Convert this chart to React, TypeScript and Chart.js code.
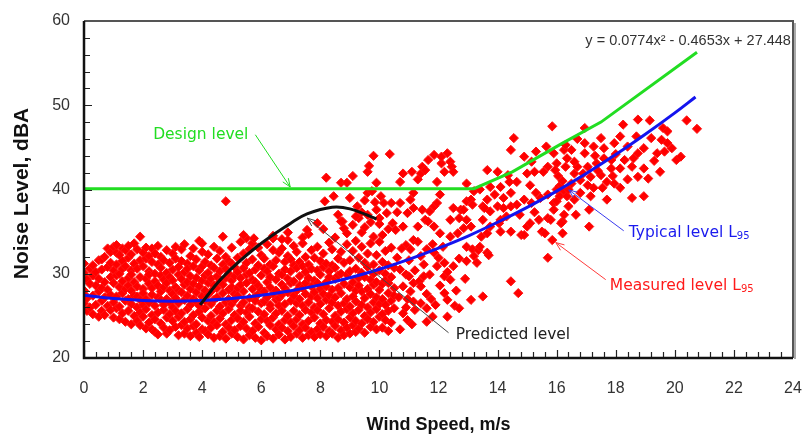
import React, { useEffect, useRef } from "react";
import { Chart, registerables } from "chart.js";

Chart.register(...registerables);

// ---------- axes ----------
const X_MIN = 0, X_MAX = 24, X_STEP = 2, X_MINOR = 0.4;
const Y_MIN = 20, Y_MAX = 60, Y_STEP = 10, Y_MINOR = 2;
const X_TITLE = "Wind Speed, m/s";
const Y_TITLE = "Noise Level, dBA";
const EQUATION = "y = 0.0774x\u00B2 - 0.4653x + 27.448";

// ---------- lines ----------
const designX = [0, 13.2, 14.5, 16.2, 17.5, 20.75];
const designY = [40.1, 40.1, 42.1, 45.5, 48.0, 56.3];

const typicalX = [0, 1, 2, 3, 4, 5, 6, 7, 8, 9, 10, 11, 12, 13, 14, 15, 16, 17, 18, 19, 20, 20.7];
const typicalY = [27.45, 27.06, 26.83, 26.75, 26.83, 27.06, 27.44, 27.98, 28.68, 29.53, 30.54, 31.7, 33.03, 34.48, 36.11, 37.88, 39.81, 41.9, 44.14, 46.55, 49.09, 50.98];

const predictedX = [3.93, 4.7, 5.85, 7.0, 7.55, 8.4, 9.0, 9.9];
const predictedY = [26.3, 29.6, 33.2, 36.0, 37.1, 37.9, 37.7, 36.5];

// ---------- measured L95 points ----------
// dense cloud: [wind speed, [noise levels...]]
const measuredCore: [number, number[]][] = [
  [0.0, [31.2, 30.1, 28.0, 26.5, 27.6]],
  [0.1, [29.3, 25.6, 27.1]],
  [0.2, [30.6, 26.0, 28.8]],
  [0.3, [25.2, 29.8, 27.4, 31.0]],
  [0.4, [26.3, 28.6, 30.2]],
  [0.5, [24.9, 27.9, 31.6, 29.4]],
  [0.6, [31.7, 26.8, 28.3, 30.5, 25.6]],
  [0.7, [29.0, 27.2, 32.0, 25.1]],
  [0.8, [30.8, 28.1, 26.2, 33.0]],
  [0.9, [31.3, 27.5, 29.6, 25.7, 32.6]],
  [1.0, [33.2, 28.9, 26.6, 30.4, 24.8]],
  [1.1, [32.5, 27.3, 29.8, 25.9, 31.1, 33.4]],
  [1.2, [30.0, 28.4, 26.1, 32.2, 24.6]],
  [1.3, [33.0, 29.1, 27.7, 25.3, 31.5, 30.6]],
  [1.4, [28.2, 26.8, 32.8, 24.3, 30.9]],
  [1.5, [31.9, 29.5, 27.0, 25.6, 33.3, 28.6]],
  [1.6, [30.4, 26.4, 24.0, 32.3, 28.0, 29.9]],
  [1.7, [27.4, 25.0, 31.2, 33.6, 29.0]],
  [1.8, [32.9, 30.6, 28.5, 26.0, 24.4, 27.3]],
  [1.9, [34.4, 29.6, 26.9, 23.9, 31.6, 25.4]],
  [2.0, [28.2, 30.9, 32.5, 24.9, 27.7, 26.3]],
  [2.1, [29.4, 25.8, 23.5, 31.8, 27.0, 33.1]],
  [2.2, [30.3, 28.8, 26.6, 24.2, 32.1, 29.9]],
  [2.3, [27.5, 25.1, 31.4, 33.0, 28.3, 23.4]],
  [2.4, [30.0, 26.2, 24.6, 29.1, 32.4, 23.1]],
  [2.5, [28.6, 31.1, 25.4, 27.2, 33.3, 22.8]],
  [2.6, [29.8, 26.9, 24.1, 30.7, 27.9, 32.0]],
  [2.7, [25.7, 28.4, 31.6, 23.6, 29.3, 26.3]],
  [2.8, [32.8, 30.1, 27.0, 24.8, 28.9, 22.9]],
  [2.9, [26.6, 29.6, 31.3, 25.2, 23.3, 28.0]],
  [3.0, [30.5, 27.6, 24.4, 32.4, 26.0, 29.2]],
  [3.1, [28.4, 25.6, 31.8, 23.7, 33.2, 27.1]],
  [3.2, [29.9, 26.5, 24.9, 30.8, 28.0, 22.7]],
  [3.3, [31.5, 27.8, 25.3, 29.4, 23.9, 32.9]],
  [3.4, [26.9, 30.2, 28.7, 24.3, 33.5, 22.9]],
  [3.5, [29.0, 25.8, 31.2, 27.4, 23.5, 30.6]],
  [3.6, [32.1, 28.2, 26.3, 24.6, 29.7, 22.6]],
  [3.7, [27.0, 30.9, 25.1, 33.0, 28.8, 23.8]],
  [3.8, [29.5, 26.7, 24.0, 31.7, 27.8, 23.0]],
  [3.9, [30.4, 28.5, 25.5, 33.9, 26.2, 22.5]],
  [4.0, [32.6, 27.3, 29.2, 24.8, 30.9, 23.4, 33.6]],
  [4.1, [28.0, 25.9, 31.4, 26.8, 23.2, 29.8]],
  [4.2, [30.1, 27.5, 24.4, 32.3, 28.9, 22.8]],
  [4.3, [26.4, 29.4, 31.0, 25.0, 27.9, 23.6]],
  [4.4, [28.6, 24.2, 30.7, 33.2, 26.9, 22.4]],
  [4.5, [31.8, 27.2, 25.6, 29.7, 23.9, 28.3]],
  [4.6, [29.1, 26.1, 32.7, 24.7, 30.3, 22.6]],
  [4.7, [27.7, 25.3, 31.1, 28.7, 23.1, 34.4]],
  [4.8, [30.6, 26.6, 24.0, 29.5, 32.0, 22.3]],
  [4.9, [28.1, 25.8, 31.5, 27.0, 23.6, 30.0]],
  [5.0, [33.1, 29.2, 26.4, 24.5, 28.4, 22.9, 31.2]],
  [5.1, [27.6, 30.8, 25.1, 23.3, 29.7, 26.9]],
  [5.2, [31.9, 28.3, 24.7, 27.4, 22.5, 30.2]],
  [5.3, [29.5, 26.2, 33.8, 25.6, 23.8, 28.7]],
  [5.4, [30.7, 27.9, 24.3, 32.4, 26.6, 22.2]],
  [5.5, [28.9, 25.4, 31.3, 29.9, 23.5, 34.2]],
  [5.6, [27.1, 30.1, 24.9, 32.9, 26.0, 22.7]],
  [5.7, [29.3, 25.9, 28.2, 31.7, 23.2, 33.6]],
  [5.8, [30.5, 27.3, 24.1, 26.8, 22.4, 29.0]],
  [5.9, [31.0, 28.6, 25.5, 33.1, 23.7, 27.6]],
  [6.0, [29.8, 26.5, 24.6, 32.2, 22.1, 28.1]],
  [6.1, [27.9, 30.6, 25.2, 23.0, 31.8, 26.7]],
  [6.2, [29.0, 24.4, 33.5, 27.2, 22.6, 30.3]],
  [6.3, [28.4, 25.9, 31.1, 23.9, 29.6, 26.3]],
  [6.4, [30.9, 27.6, 24.8, 32.8, 22.3, 34.2]],
  [6.5, [26.9, 29.3, 25.3, 31.6, 23.4, 28.0]],
  [6.6, [30.0, 27.1, 24.0, 32.5, 22.8, 26.2]],
  [6.7, [28.7, 25.6, 33.0, 29.9, 23.6, 27.5]],
  [6.8, [31.4, 26.4, 24.5, 28.3, 22.2, 30.5]],
  [6.9, [27.8, 29.4, 25.0, 32.1, 23.2, 34.0]],
  [7.0, [30.3, 26.8, 24.2, 28.9, 22.5, 31.7]],
  [7.1, [29.1, 27.4, 25.6, 33.3, 23.8, 31.0]],
  [7.2, [28.0, 30.7, 24.6, 26.5, 22.9, 32.6]],
  [7.3, [29.7, 27.0, 25.1, 31.4, 23.3, 28.6]],
  [7.4, [30.9, 26.2, 24.0, 33.6, 22.4, 28.3]],
  [7.5, [28.9, 25.7, 32.0, 27.6, 23.6, 30.2]],
  [7.6, [29.5, 26.6, 24.4, 31.1, 22.7, 34.7]],
  [7.7, [27.3, 30.6, 25.4, 32.8, 23.1, 28.5]],
  [7.8, [29.2, 26.0, 24.8, 31.9, 27.8, 22.5]],
  [7.9, [30.4, 27.1, 25.7, 33.2, 23.4, 28.9]],
  [8.0, [28.2, 26.4, 31.5, 24.1, 29.9, 22.8]],
  [8.1, [30.8, 27.6, 25.2, 32.4, 23.7, 35.3]],
  [8.2, [29.0, 26.9, 24.5, 28.5, 22.6, 31.2]],
  [8.3, [27.4, 30.3, 25.9, 33.7, 23.2, 29.6]],
  [8.4, [31.0, 28.1, 24.3, 26.6, 22.9, 32.9]],
  [8.5, [29.4, 27.2, 25.0, 30.7, 23.8, 34.3]],
  [8.6, [28.3, 26.2, 31.8, 24.6, 22.4, 29.8]],
  [8.7, [30.0, 27.7, 25.5, 32.6, 23.3, 36.2]],
  [8.8, [28.8, 26.5, 24.2, 31.3, 22.7, 35.4]],
  [8.9, [29.9, 27.0, 25.8, 33.5, 23.6, 34.8]],
  [9.0, [31.6, 28.4, 26.1, 24.8, 30.3, 22.9]],
  [9.1, [29.0, 27.3, 25.3, 32.7, 23.9, 35.8]],
  [9.2, [30.6, 26.7, 24.4, 28.0, 23.1, 33.9]],
  [9.3, [28.6, 31.9, 25.7, 29.5, 23.5, 36.6]],
  [9.4, [27.9, 30.1, 26.3, 24.1, 33.2, 34.9]],
  [9.5, [29.6, 27.1, 25.0, 31.3, 23.0, 35.5]],
  [9.6, [28.2, 30.8, 26.0, 24.6, 32.4, 37.0]],
  [9.7, [29.3, 27.6, 25.4, 33.6, 23.7, 36.1]],
  [9.8, [31.1, 28.7, 26.6, 24.3, 30.0, 34.4]],
  [9.9, [29.0, 27.2, 25.8, 32.2, 23.4, 37.6]],
  [10.0, [30.4, 28.1, 26.4, 24.9, 33.8, 35.9]],
  [10.1, [28.8, 27.0, 31.4, 25.2, 23.6]],
  [10.2, [30.0, 26.3, 29.2, 24.5, 32.7]],
  [10.3, [27.7, 25.6, 31.0, 28.9, 23.2]],
  [10.4, [29.6, 26.8, 24.2, 33.1]],
  [10.5, [28.3, 25.9, 30.7, 27.4]],
];

// scattered points above the cloud, 4.5 – 11 m/s
const measuredUpper: [number, number][] = [
  [4.8, 38.6], [5.4, 34.6], [5.75, 34.2], [6.4, 34.5], [6.7, 34.1], [6.9, 34.9], [7.4, 34.3], [7.55, 35.2],
  [7.9, 36.0], [8.15, 38.6], [8.2, 41.4], [8.45, 39.2], [8.6, 37.0], [8.7, 40.8], [8.75, 36.2], [8.9, 40.8],
  [9.0, 39.0], [9.1, 41.6], [9.25, 38.0], [9.4, 37.3], [9.6, 39.6], [9.6, 42.1], [9.65, 42.8], [9.75, 39.8],
  [9.8, 44.0], [9.85, 38.5], [9.9, 40.8], [10.0, 36.6], [10.05, 39.2], [10.15, 38.4], [10.25, 37.2], [10.35, 44.2],
  [10.4, 38.4], [10.45, 36.0], [10.55, 35.2], [10.6, 37.3], [10.7, 38.4], [10.7, 40.9], [10.8, 41.9], [10.8, 35.6],
  [10.9, 33.4], [10.95, 37.2], [9.2, 36.8], [9.5, 38.7], [10.1, 34.6], [10.3, 35.3],
];

// 11 – 16.5 m/s
const measuredMid: [number, number][] = [
  [11.05, 32.9], [11.05, 38.8], [11.15, 39.6], [11.15, 34.0], [11.15, 37.8], [11.1, 42.1], [11.3, 41.2], [11.3, 35.6],
  [11.4, 41.9], [11.4, 32.1], [11.45, 42.7], [11.45, 37.6], [11.55, 42.3], [11.55, 36.4], [11.6, 32.9], [11.65, 43.5],
  [11.65, 36.2], [11.7, 37.4], [11.85, 44.1], [11.85, 38.0], [11.85, 35.6], [11.85, 32.5], [11.95, 40.9], [11.95, 38.4],
  [11.95, 30.9], [12.05, 39.4], [12.05, 34.8], [12.1, 43.1], [12.1, 43.9], [12.2, 42.1], [12.2, 31.3], [12.3, 44.3],
  [12.4, 43.3], [12.4, 34.4], [12.4, 36.4], [12.45, 42.7], [12.5, 37.8], [12.5, 42.1], [12.5, 30.9], [12.65, 34.8],
  [12.7, 36.6], [12.75, 37.6], [12.85, 35.4], [12.85, 37.6], [12.95, 36.4], [12.95, 38.6], [12.95, 40.7], [12.95, 33.2],
  [12.95, 31.5], [13.1, 38.8], [13.1, 35.6], [13.15, 38.2], [13.15, 32.9], [13.2, 39.8], [13.2, 32.1], [13.3, 31.3],
  [13.35, 32.8], [13.4, 33.2], [13.4, 40.0], [13.45, 34.4], [13.5, 36.4], [13.5, 38.0], [13.55, 37.8],
  [13.65, 42.3], [13.65, 38.8], [13.65, 34.8], [13.65, 32.5], [13.7, 32.2], [13.75, 40.3], [13.75, 37.4], [13.75, 35.6],
  [14.0, 42.1], [14.0, 38.0], [14.05, 36.0], [14.1, 40.3], [14.1, 36.4], [14.1, 35.0], [14.2, 39.0], [14.2, 37.8],
  [14.35, 41.7], [14.4, 40.9], [14.45, 44.7], [14.45, 39.6], [14.45, 38.0], [14.45, 35.0], [14.55, 46.1], [14.65, 38.2],
  [14.65, 40.9], [14.8, 34.6], [14.9, 43.9], [14.9, 38.8], [14.9, 34.6], [15.0, 41.9], [15.0, 35.6], [15.1, 36.0],
  [15.1, 40.5], [15.15, 43.3], [15.15, 38.4], [15.25, 42.1], [15.3, 44.5], [15.3, 39.6], [15.4, 36.4], [15.45, 39.0],
  [15.5, 35.0], [15.55, 42.1], [15.6, 34.8], [15.65, 45.1], [15.7, 42.7], [15.7, 39.4], [15.7, 36.6], [15.7, 31.9],
  [15.8, 36.4], [15.85, 47.5], [15.85, 34.0], [15.9, 44.3], [15.9, 38.4], [15.9, 37.6], [16.0, 43.1], [16.0, 38.6],
  [16.1, 39.2], [16.2, 36.2], [16.25, 44.7], [16.25, 39.8], [16.3, 42.7], [16.35, 39.2], [16.35, 43.7], [16.4, 38.0],
  [16.05, 41.6], [16.1, 40.4], [15.95, 42.3], [16.0, 40.0], [14.75, 37.0], [15.25, 37.3], [14.3, 36.8], [13.9, 39.4],
];

// lower scattered points, 10.5 – 15 m/s
const measuredLow: [number, number][] = [
  [10.6, 31.9], [10.65, 27.2], [10.7, 30.5], [10.75, 33.0], [10.8, 28.5], [10.8, 25.3], [10.7, 23.4], [10.9, 29.9],
  [10.9, 26.0], [10.95, 24.5], [10.95, 27.0], [11.0, 31.6], [11.0, 29.7], [11.05, 27.9], [11.1, 24.0], [11.15, 28.9],
  [11.15, 26.7], [11.2, 30.4], [11.2, 25.7], [11.3, 33.8], [11.35, 29.1], [11.4, 28.5], [11.4, 26.5], [11.5, 31.1],
  [11.5, 29.7], [11.6, 27.6], [11.6, 25.9], [11.6, 24.3], [11.7, 29.9], [11.75, 27.0], [11.8, 33.5], [11.8, 24.9],
  [11.9, 26.3], [12.0, 31.9], [12.05, 28.6], [12.15, 33.2], [12.2, 29.7], [12.2, 27.7], [12.3, 30.2], [12.3, 26.9],
  [12.3, 24.9], [12.4, 29.3], [12.55, 26.2], [12.6, 28.0], [12.7, 31.8], [12.7, 25.9], [12.9, 29.4], [13.1, 26.9],
  [13.5, 27.3], [14.45, 29.1], [14.7, 27.7],
];

// 16 – 21 m/s
const measuredHigh: [number, number][] = [
  [16.2, 34.8], [16.15, 36.0], [16.25, 37.0], [16.65, 37.0], [17.1, 37.6], [17.1, 35.6], [16.6, 38.8], [16.5, 40.7],
  [16.8, 41.1], [17.05, 40.5], [17.25, 40.2], [17.15, 39.2], [17.55, 40.2], [17.7, 38.8], [17.5, 41.7], [17.15, 41.5],
  [17.7, 40.9], [17.95, 40.7], [18.15, 40.2], [18.55, 39.0], [18.95, 39.2], [18.75, 41.5], [19.1, 41.3], [18.95, 42.5],
  [18.55, 42.7], [19.5, 42.1], [18.15, 42.5], [18.3, 43.5], [17.85, 43.5], [17.85, 42.5], [17.6, 43.7], [17.35, 43.1],
  [17.05, 42.7], [16.7, 42.7], [16.6, 41.9], [16.5, 44.7], [16.95, 44.3], [16.95, 45.5], [17.25, 45.1], [17.6, 44.9],
  [17.95, 45.5], [18.4, 45.1], [18.75, 44.3], [18.95, 44.9], [19.4, 44.3], [19.65, 44.5], [19.75, 45.5], [19.55, 45.9],
  [20.05, 43.5], [20.2, 43.9], [18.15, 46.3], [18.7, 46.3], [19.2, 46.1], [17.5, 46.1], [16.95, 47.3], [18.25, 47.7],
  [18.75, 48.3], [19.15, 48.2], [20.4, 48.2], [20.75, 47.2], [19.6, 47.3], [19.75, 46.9], [16.2, 41.0], [16.4, 40.0],
  [16.6, 43.3], [16.8, 39.6], [16.9, 41.9], [16.3, 45.3], [16.7, 46.0], [17.3, 44.0], [17.4, 42.2], [17.9, 41.6],
  [18.4, 41.2], [18.0, 44.2], [18.6, 43.7], [19.3, 43.4], [19.9, 44.9],
];

// ---------- annotations (data coordinates) ----------
const labels = [
  { text: "Design level", sub: "", x: 2.34, y: 46.5, color: "#22dd22" },
  { text: "Predicted level", sub: "", x: 12.58, y: 22.75, color: "#222222" },
  { text: "Typical level L", sub: "95", x: 18.44, y: 34.85, color: "#1a1aee" },
  { text: "Measured level L", sub: "95", x: 17.8, y: 28.56, color: "#ff1a1a" },
];
const arrows = [
  { from: [5.8, 46.5], to: [6.98, 40.3], color: "#22dd22" },
  { from: [12.34, 23.0], to: [7.56, 36.6], color: "#444444" },
  { from: [18.27, 35.1], to: [16.41, 39.95], color: "#3a3aee" },
  { from: [17.66, 29.3], to: [15.97, 33.7], color: "#ff3a3a" },
];
const equationPos = { x: 23.93, y: 57.6 };

const TICK_FONT = "'Liberation Sans', Arial, sans-serif";
const NOTE_FONT = "'DejaVu Sans', sans-serif";

const decorPlugin = {
  id: "decor",
  afterDraw(chart: any) {
    const { ctx, chartArea: a, scales } = chart;
    const xs = scales.x, ys = scales.y;
    ctx.save();
    // inward ticks
    ctx.strokeStyle = "#222";
    ctx.lineWidth = 1.2;
    ctx.beginPath();
    const nx = Math.round((X_MAX - X_MIN) / X_MINOR);
    for (let i = 0; i <= nx; i++) {
      const v = X_MIN + i * X_MINOR;
      const px = Math.round(xs.getPixelForValue(v)) + 0.5;
      const major = Math.abs(v / X_STEP - Math.round(v / X_STEP)) < 1e-6;
      ctx.moveTo(px, a.bottom);
      ctx.lineTo(px, a.bottom - (major ? 8 : 6));
    }
    const ny = Math.round((Y_MAX - Y_MIN) / Y_MINOR);
    for (let i = 0; i <= ny; i++) {
      const v = Y_MIN + i * Y_MINOR;
      const py = Math.round(ys.getPixelForValue(v)) + 0.5;
      const major = (v - Y_MIN) % Y_STEP === 0;
      ctx.moveTo(a.left, py);
      ctx.lineTo(a.left + (major ? 8 : 6), py);
    }
    ctx.stroke();

    // frame
    ctx.strokeStyle = "#aaaaaa";
    ctx.lineWidth = 2;
    ctx.beginPath();
    ctx.moveTo(a.right + 2, a.top + 2);
    ctx.lineTo(a.right + 2, a.bottom + 1);
    ctx.stroke();
    ctx.strokeStyle = "#555555";
    ctx.lineWidth = 2;
    ctx.beginPath();
    ctx.moveTo(a.left, a.top);
    ctx.lineTo(a.right, a.top);
    ctx.lineTo(a.right, a.bottom);
    ctx.stroke();
    ctx.strokeStyle = "#111111";
    ctx.lineWidth = 2.5;
    ctx.beginPath();
    ctx.moveTo(a.left, a.top);
    ctx.lineTo(a.left, a.bottom);
    ctx.lineTo(a.right, a.bottom);
    ctx.stroke();

    // arrows
    for (const ar of arrows) {
      const x1 = xs.getPixelForValue(ar.from[0]), y1 = ys.getPixelForValue(ar.from[1]);
      const x2 = xs.getPixelForValue(ar.to[0]), y2 = ys.getPixelForValue(ar.to[1]);
      ctx.strokeStyle = ar.color;
      ctx.lineWidth = 1;
      ctx.beginPath();
      ctx.moveTo(x1, y1);
      ctx.lineTo(x2, y2);
      const ang = Math.atan2(y1 - y2, x1 - x2);
      const L = 9, sp = 0.38;
      ctx.moveTo(x2 + L * Math.cos(ang + sp), y2 + L * Math.sin(ang + sp));
      ctx.lineTo(x2, y2);
      ctx.lineTo(x2 + L * Math.cos(ang - sp), y2 + L * Math.sin(ang - sp));
      ctx.stroke();
    }

    // labels
    ctx.textBaseline = "middle";
    ctx.textAlign = "left";
    for (const lb of labels) {
      const px = xs.getPixelForValue(lb.x), py = ys.getPixelForValue(lb.y);
      ctx.fillStyle = lb.color;
      ctx.font = `15.5px ${NOTE_FONT}`;
      ctx.fillText(lb.text, px, py);
      if (lb.sub) {
        const w = ctx.measureText(lb.text).width;
        ctx.font = `10px ${NOTE_FONT}`;
        ctx.fillText(lb.sub, px + w, py + 4);
      }
    }

    // equation
    ctx.fillStyle = "#333333";
    ctx.font = `14.5px ${TICK_FONT}`;
    ctx.textAlign = "right";
    ctx.fillText(EQUATION, xs.getPixelForValue(equationPos.x), ys.getPixelForValue(equationPos.y));

    // axis titles
    ctx.fillStyle = "#111111";
    ctx.textAlign = "center";
    ctx.font = `bold 18px ${TICK_FONT}`;
    ctx.fillText(X_TITLE, (a.left + a.right) / 2, 425);
    ctx.save();
    ctx.translate(22, (a.top + a.bottom) / 2 + 4);
    ctx.rotate(-Math.PI / 2);
    ctx.font = `bold 21px ${TICK_FONT}`;
    ctx.fillText(Y_TITLE, 0, 0);
    ctx.restore();

    ctx.restore();
  },
};

export default function App() {
  const ref = useRef<HTMLCanvasElement | null>(null);
  useEffect(() => {
    document.body.style.margin = "0";
    const canvas = ref.current;
    if (!canvas) return;

    const points: { x: number; y: number }[] = [];
    for (const [x, ys] of measuredCore) for (const y of ys) points.push({ x, y });
    for (const arr of [measuredUpper, measuredMid, measuredLow, measuredHigh])
      for (const [x, y] of arr) points.push({ x, y });

    const toXY = (xs: number[], ys: number[]) => xs.map((x, i) => ({ x, y: ys[i] }));

    const chart = new Chart(canvas, {
      type: "scatter",
      data: {
        datasets: [
          {
            label: "Design level",
            data: toXY(designX, designY),
            showLine: true,
            borderColor: "#22dd22",
            borderWidth: 3,
            pointRadius: 0,
            tension: 0,
            order: 1,
          },
          {
            label: "Typical level L95",
            data: toXY(typicalX, typicalY),
            showLine: true,
            borderColor: "#1414ee",
            borderWidth: 3,
            pointRadius: 0,
            tension: 0.4,
            order: 2,
          },
          {
            label: "Predicted level",
            data: toXY(predictedX, predictedY),
            showLine: true,
            borderColor: "#111111",
            borderWidth: 3,
            pointRadius: 0,
            tension: 0.4,
            order: 0,
          },
          {
            label: "Measured level L95",
            data: points,
            showLine: false,
            pointStyle: "rectRot",
            pointRadius: 4.6,
            backgroundColor: "#ff0000",
            borderColor: "#ff1010",
            borderWidth: 1,
            order: 10,
          },
        ],
      },
      options: {
        responsive: false,
        animation: false,
        events: [],
        layout: { padding: { top: 21, right: 9, left: 0, bottom: 0 } },
        plugins: { legend: { display: false }, tooltip: { enabled: false } },
        scales: {
          x: {
            type: "linear",
            min: X_MIN,
            max: X_MAX,
            grid: { display: false, drawTicks: false },
            border: { display: false },
            ticks: {
              stepSize: X_STEP,
              padding: 21,
              color: "#333333",
              font: { family: TICK_FONT, size: 16 },
            },
            afterFit: (s: any) => {
              s.height = 78;
              s.paddingLeft = 0;
              s.paddingRight = 0;
            },
          },
          y: {
            type: "linear",
            min: Y_MIN,
            max: Y_MAX,
            grid: { display: false, drawTicks: false },
            border: { display: false },
            ticks: {
              stepSize: Y_STEP,
              padding: 14,
              color: "#333333",
              font: { family: TICK_FONT, size: 16 },
            },
            afterFit: (s: any) => {
              s.width = 84;
              s.paddingTop = 0;
              s.paddingBottom = 0;
            },
          },
        },
      },
      plugins: [decorPlugin],
    });
    return () => chart.destroy();
  }, []);

  return (
    <div style={{ width: 802, height: 436, background: "#fff" }}>
      <canvas ref={ref} width={802} height={436} />
    </div>
  );
}
